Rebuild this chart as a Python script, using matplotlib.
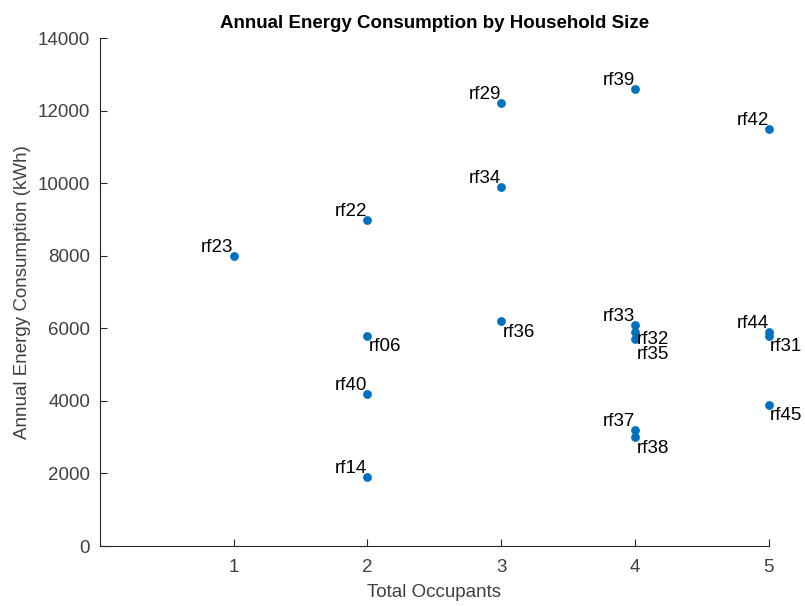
import matplotlib.pyplot as plt

plt.rcParams['font.family'] = ['Liberation Sans', 'DejaVu Sans']

# household id, occupants, annual kWh
ids = ['rf23', 'rf22', 'rf06', 'rf40', 'rf14', 'rf29', 'rf34', 'rf36', 'rf39',
       'rf33', 'rf32', 'rf35', 'rf37', 'rf38', 'rf42', 'rf44', 'rf31', 'rf45']
occupants = [1, 2, 2, 2, 2, 3, 3, 3, 4, 4, 4, 4, 4, 4, 5, 5, 5, 5]
energy = [8000, 9000, 5800, 4200, 1900, 12200, 9900, 6200, 12600,
          6100, 5900, 5700, 3200, 3000, 11500, 5900, 5800, 3900]
# which side of the point each label sits on
below_right = ['rf06', 'rf36', 'rf32', 'rf35', 'rf38', 'rf31', 'rf45']
# the three points at 4 occupants near 6000 kWh are crowded; spread their labels
nudge = {'rf32': 1, 'rf35': -5}

ax_col = '#262626'
fs = 13.5
fig = plt.figure(figsize=(8.05, 6.06), dpi=100)
ax = fig.add_axes([0.124, 0.099, 0.831, 0.838])
ax.scatter(occupants, energy, s=40, color='#0072BD', zorder=3, linewidths=0,
           clip_on=False)

for name, x, y in zip(ids, occupants, energy):
    if name in below_right:
        dy = nudge.get(name, -2)
        ax.annotate(name, (x, y), xytext=(1, dy), textcoords='offset points',
                    ha='left', va='top', fontsize=fs, color='black')
    else:
        ax.annotate(name, (x, y), xytext=(0, 0), textcoords='offset points',
                    ha='right', va='bottom', fontsize=fs, color='black')

ax.set_xlim(0, 5)
ax.set_ylim(0, 14000)
ax.set_xticks([1, 2, 3, 4, 5])
ax.set_yticks(range(0, 14001, 2000))
for side in ['top', 'right']:
    ax.spines[side].set_visible(False)
for side in ['left', 'bottom']:
    ax.spines[side].set_color(ax_col)
    ax.spines[side].set_linewidth(0.8)
ax.tick_params(direction='in', length=5, width=0.8, colors=ax_col,
               labelcolor='#404040', labelsize=fs)
ax.tick_params(axis='x', pad=9)
ax.tick_params(axis='y', pad=7)
ax.set_xlabel('Total Occupants', fontsize=fs, color='#404040', labelpad=6)
ax.set_ylabel('Annual Energy Consumption (kWh)', fontsize=fs, color='#404040',
              labelpad=5)
ax.set_title('Annual Energy Consumption by Household Size', fontsize=fs,
             fontweight='bold', pad=7)

fig.savefig('out.png', dpi=100)
